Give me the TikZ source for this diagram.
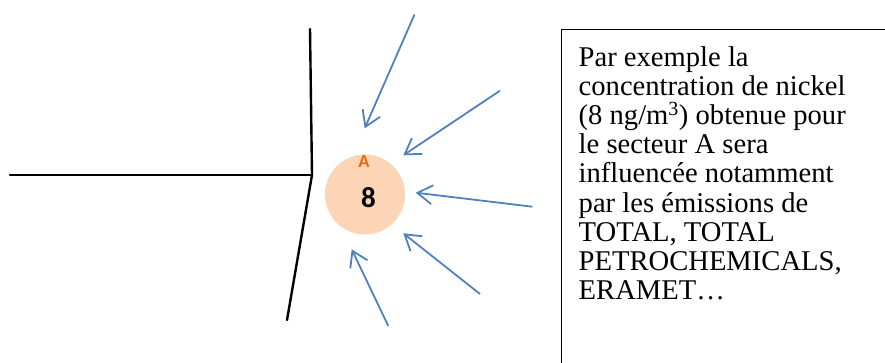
\documentclass[tikz,border=0pt]{standalone}
\usepackage{fontspec}
\setmainfont{Liberation Serif}
\newfontfamily\labelfont{Carlito}
\usetikzlibrary{arrows.meta}
\definecolor{peach}{HTML}{FBD5B5}
\definecolor{sectororange}{HTML}{E36C09}
\definecolor{windblue}{HTML}{4F81BD}
\tikzset{
  border/.style={line width=2.4pt, black, line cap=round},
  wind/.style={line width=1.8pt, windblue,
    -{Straight Barb[length=15pt, width=19pt, line width=1.8pt]}},
  sector/.style={circle, fill=peach, minimum size=80pt, inner sep=0pt},
  notebox/.style={draw, line width=1.4pt, anchor=north west,
    minimum width=340pt, minimum height=345pt}
}
\begin{document}
\begin{tikzpicture}[x=1pt, y=-1pt]
\useasboundingbox (0,0) rectangle (885,363);

% site boundary
\coordinate (b1) at (310,29);
\coordinate (b2) at (312,175);
\coordinate (b3) at (10,175);
\coordinate (b4) at (287,320);
\draw[border] (b1) -- (b2) -- (b4);
\draw[border] (b3) -- (b2);

% sector A
\node[sector] (A) at (365,194.5) {};
\node[text=sectororange, font=\labelfont\bfseries\fontsize{18.5}{18.5}\selectfont] (Alab) at (364,161.5) {A};
\node[font=\labelfont\bfseries\fontsize{29}{29}\selectfont] (Aval) at (368.5,198) {8};

% incoming plumes
\coordinate (s1) at (414.5,14.5);  \coordinate (e1) at (364.7,128.3);
\coordinate (s2) at (500,90.7);    \coordinate (e2) at (403.3,155.3);
\coordinate (s3) at (532.3,206.7); \coordinate (e3) at (415.7,192.7);
\coordinate (s4) at (480,294);     \coordinate (e4) at (403.3,233.3);
\coordinate (s5) at (388.3,326);   \coordinate (e5) at (351.7,249.3);
\foreach \i in {1,...,5} \draw[wind] (s\i) -- (e\i);

% explanatory note
\node[notebox] (note) at (561,29) {};
\node[anchor=north west, align=left, inner sep=0pt,
      font=\fontsize{28.6}{29.2}\selectfont] (text) at (578.5,46)
{Par exemple la\\
concentration de nickel\\
(8 ng/m\textsuperscript{3}) obtenue pour\\
le secteur A sera\\
influencée notamment\\
par les émissions de\\
TOTAL, TOTAL\\
PETROCHEMICALS,\\
ERAMET…};
\end{tikzpicture}
\end{document}
